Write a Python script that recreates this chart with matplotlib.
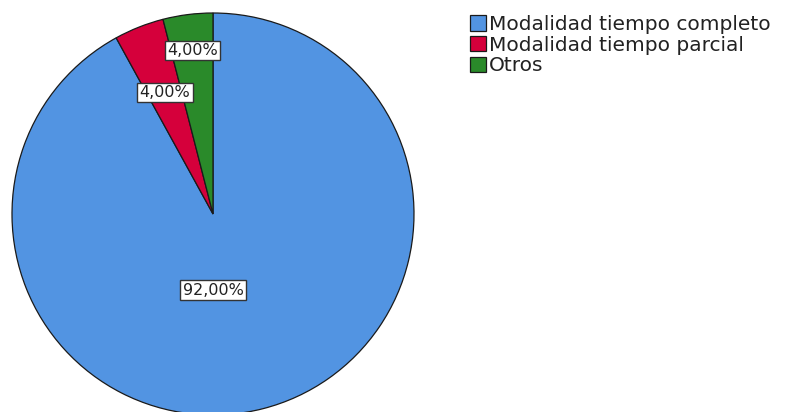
import matplotlib
matplotlib.use("Agg")
import matplotlib.pyplot as plt
import numpy as np

labels = ["Modalidad tiempo completo", "Modalidad tiempo parcial", "Otros"]
values = [92.0, 4.0, 4.0]
colors = ["#5294e2", "#d5003b", "#2a8a2a"]
# distance of each percent label from the centre (fraction of radius)
label_dist = [0.38, 0.65, 0.82]

W, H = 790, 412
fig = plt.figure(figsize=(W / 100, H / 100), dpi=100)
cx, cy, r = 213, 214, 201
ax = fig.add_axes([(cx - r) / W, (H - cy - r) / H, 2 * r / W, 2 * r / H])

wedges, texts, autotexts = ax.pie(
    values, colors=colors, startangle=90, counterclock=False,
    autopct=lambda p: ("%.2f%%" % p).replace(".", ","),
    wedgeprops=dict(edgecolor="#1a1a1a", linewidth=0.9),
    textprops=dict(fontsize=11.5, color="#222222"),
)
ax.set_xlim(-1, 1)
ax.set_ylim(-1, 1)
ax.set_aspect("auto")
ax.axis("off")

for i, (w, t) in enumerate(zip(wedges, autotexts)):
    ang = np.deg2rad((w.theta1 + w.theta2) / 2)
    if i == 0:
        ang = np.deg2rad(-90)
    d = label_dist[i]
    t.set_position((d * np.cos(ang), d * np.sin(ang)))
    t.set_bbox(dict(boxstyle="square,pad=0.15", facecolor="white",
                    edgecolor="#333333", linewidth=1.0))

fig.legend(wedges, labels, loc="upper left",
           bbox_to_anchor=(470 / W, 1 - 15 / H), frameon=False,
           fontsize=14.5, handlelength=0.8, handleheight=0.8,
           handletextpad=0.15, labelspacing=0.08, borderpad=0,
           borderaxespad=0, labelcolor="#222222")

fig.savefig("out.png", dpi=100)
